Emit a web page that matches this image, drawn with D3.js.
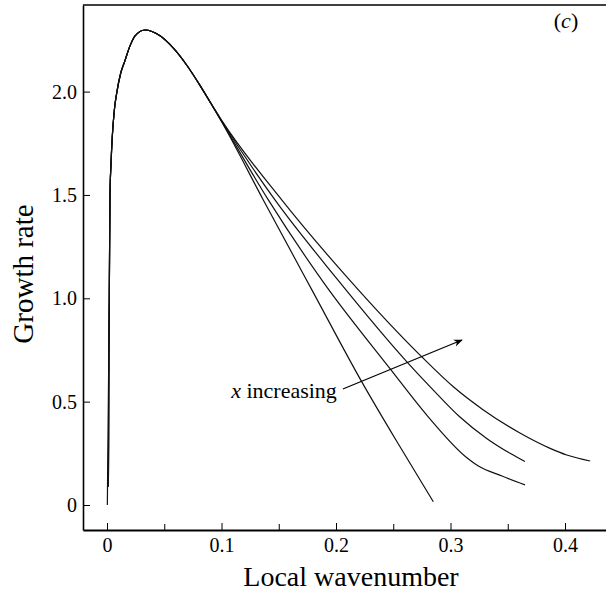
<!DOCTYPE html>
<html>
<head>
<meta charset="utf-8">
<script src="https://cdn.jsdelivr.net/npm/d3@7"></script>
<style>
  body { margin: 0; background: #fff; }
  svg { display: block; }
  text { font-family: "Liberation Serif", "Times New Roman", serif; fill: #000; }
  .domain, .tick line { stroke: #000; }
  .curve { fill: none; stroke: #111; stroke-width: 1.2px; }
</style>
</head>
<body>
<svg width="606" height="594"></svg>
<script>
// growth rate vs local wavenumber
var riseA = [[0.0003, 0.0], [0.0008, 0.30]];
var riseOther = [[0.0012, 0.09], [0.0014, 0.30]];
var shared = [
  [0.0017, 0.80], [0.0020, 1.00], [0.0026, 1.50], [0.0035, 1.65], [0.0046, 1.78],
  [0.0064, 1.91], [0.0087, 2.00], [0.0120, 2.09], [0.0157, 2.15], [0.0200, 2.22],
  [0.0245, 2.27], [0.0330, 2.298], [0.0463, 2.27], [0.0580, 2.21], [0.0700, 2.125],
  [0.0812, 2.03], [0.0900, 1.95]
];
var tailA = [[0.100, 1.855], [0.1365, 1.476], [0.180, 1.03], [0.2224, 0.597], [0.255, 0.29], [0.285, 0.016]];
var tailB = [[0.100, 1.857], [0.1409, 1.476], [0.190, 1.07], [0.247, 0.661], [0.280, 0.43], [0.314, 0.23],
  [0.324, 0.19], [0.345, 0.14], [0.365, 0.097]];
var tailC = [[0.100, 1.86], [0.1467, 1.476], [0.200, 1.10], [0.2617, 0.694], [0.285, 0.556], [0.308, 0.427],
  [0.3316, 0.322], [0.352, 0.25], [0.365, 0.21]];
var tailD = [[0.100, 1.862], [0.1526, 1.476], [0.210, 1.10], [0.2747, 0.718], [0.3025, 0.572], [0.3287, 0.46],
  [0.361, 0.347], [0.387, 0.274], [0.4015, 0.242], [0.422, 0.213]];

var xMajor = [0, 0.1, 0.2, 0.3, 0.4];
var xMinor = [0.05, 0.15, 0.25, 0.35];
var yMajor = [0, 0.5, 1.0, 1.5, 2.0];
var xLabels = ["0", "0.1", "0.2", "0.3", "0.4"];
var yLabels = ["0", "0.5", "1.0", "1.5", "2.0"];

// annotation arrow, in data units
var arrowFrom = [0.206, 0.561];
var arrowTo = [0.310, 0.798];

var curves = [
  riseA.concat(shared, tailA),
  riseOther.concat(shared, tailB),
  riseOther.concat(shared, tailC),
  riseOther.concat(shared, tailD)
];

var svg = d3.select("svg");
// plot box (right edge sits just off the page)
var box = { left: 83, top: 5, right: 612, bottom: 530 };

var x = d3.scaleLinear().domain([0, 0.4]).range([107, 565]);
x.domain([x.invert(box.left), x.invert(box.right)]).range([box.left, box.right]);
var y = d3.scaleLinear().domain([0, 2.0]).range([505, 91.6]);
y.domain([y.invert(box.bottom), y.invert(box.top)]).range([box.bottom, box.top]);

var defs = svg.append("defs");
defs.append("marker")
  .attr("id", "head")
  .attr("viewBox", "0 0 10 10")
  .attr("refX", 9).attr("refY", 5)
  .attr("markerWidth", 9).attr("markerHeight", 9)
  .attr("markerUnits", "userSpaceOnUse")
  .attr("orient", "auto")
  .append("path")
  .attr("d", "M0,1 L10,5 L0,9 L3,5 Z")
  .attr("fill", "#000");

// top spine
svg.append("line")
  .attr("x1", box.left).attr("x2", box.right)
  .attr("y1", box.top).attr("y2", box.top)
  .attr("stroke", "#000").attr("stroke-width", 1.6);

var xAxis = svg.append("g")
  .attr("transform", "translate(0," + box.bottom + ")")
  .call(d3.axisBottom(x).tickValues(xMajor).tickSize(-7).tickSizeOuter(0).tickPadding(8)
    .tickFormat(function(d, i) { return xLabels[i]; }));
xAxis.select(".domain").attr("stroke-width", 2);
xAxis.selectAll("text").style("font-size", "20px");

svg.append("g")
  .attr("transform", "translate(0," + box.bottom + ")")
  .call(d3.axisBottom(x).tickValues(xMinor).tickSize(-6).tickSizeOuter(0).tickFormat(""))
  .select(".domain").remove();

var yAxis = svg.append("g")
  .attr("transform", "translate(" + box.left + ",0)")
  .call(d3.axisLeft(y).tickValues(yMajor).tickSize(-7).tickSizeOuter(0).tickPadding(6)
    .tickFormat(function(d, i) { return yLabels[i]; }));
yAxis.select(".domain").attr("stroke-width", 1.6);
yAxis.selectAll("text").style("font-size", "20px");

var line = d3.line()
  .x(function(d) { return x(d[0]); })
  .y(function(d) { return y(d[1]); })
  .curve(d3.curveMonotoneX);

svg.append("g").selectAll("path")
  .data(curves)
  .enter()
  .append("path")
  .attr("class", "curve")
  .attr("d", line);

svg.append("line")
  .attr("x1", x(arrowFrom[0])).attr("y1", y(arrowFrom[1]))
  .attr("x2", x(arrowTo[0])).attr("y2", y(arrowTo[1]))
  .attr("stroke", "#000").attr("stroke-width", 1.2)
  .attr("marker-end", "url(#head)");

var note = svg.append("text")
  .attr("x", x(arrowFrom[0]) - 6)
  .attr("y", y(arrowFrom[1]) + 9)
  .attr("text-anchor", "end")
  .style("font-size", "22px");
note.append("tspan").style("font-style", "italic").text("x");
note.append("tspan").text(" increasing");

svg.append("text")
  .attr("x", 566).attr("y", 28)
  .attr("text-anchor", "middle")
  .style("font-size", "22px")
  .html("(<tspan font-style='italic'>c</tspan>)");

svg.append("text")
  .attr("x", 351).attr("y", 586)
  .attr("text-anchor", "middle")
  .style("font-size", "28px")
  .text("Local wavenumber");

svg.append("text")
  .attr("transform", "translate(33,274) rotate(-90)")
  .attr("text-anchor", "middle")
  .style("font-size", "29px")
  .text("Growth rate");
</script>
</body>
</html>
